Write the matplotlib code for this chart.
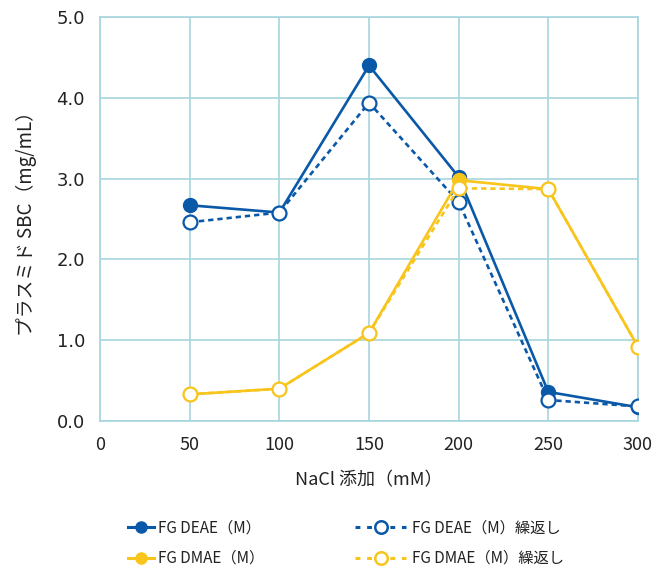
import matplotlib
matplotlib.use("Agg")
import matplotlib.pyplot as plt
from matplotlib.lines import Line2D

plt.rcParams['font.family'] = ['Noto Sans CJK JP', 'DejaVu Sans']

# data
nacl = [50, 100, 150, 200, 250, 300]
deae = [2.67, 2.58, 4.40, 3.02, 0.36, 0.17]
deae_rep = [2.46, 2.58, 3.94, 2.71, 0.26, 0.18]
dmae = [0.33, 0.40, 1.09, 2.98, 2.87, 0.92]
dmae_rep = [0.33, 0.40, 1.09, 2.88, 2.87, 0.92]

labels = ['FG DEAE（M）', 'FG DEAE（M）繰返し', 'FG DMAE（M）', 'FG DMAE（M）繰返し']
xticks = [0, 50, 100, 150, 200, 250, 300]
yticks = [0, 1, 2, 3, 4, 5]

blue = '#0a58a8'
yellow = '#f8c51c'
grid_c = '#a8d5de'
dash = (2.0, 1.5)

fig = plt.figure(figsize=(6.59, 5.67), dpi=100)
ax = fig.add_axes([0.152, 0.2575, 0.816, 0.7125])

lw = 1.9
ms = 10
ax.plot(nacl, deae, color=blue, lw=lw, marker='o', ms=ms, mfc=blue, mec=blue, zorder=3)
ax.plot(nacl, deae_rep, color=blue, lw=lw, dashes=dash, marker='o', ms=ms,
        mfc='white', mec=blue, mew=1.6, zorder=4)
ax.plot(nacl, dmae, color=yellow, lw=lw, marker='o', ms=ms, mfc=yellow, mec=yellow, zorder=5)
ax.plot(nacl, dmae_rep, color=yellow, lw=lw, dashes=dash, marker='o', ms=ms,
        mfc='white', mec=yellow, mew=1.6, zorder=6)

ax.set_xlim(0, 300)
ax.set_ylim(0, 5)
ax.set_xticks(xticks)
ax.set_yticks(yticks)
ax.set_yticklabels(['%.1f' % v for v in yticks], family='DejaVu Sans')
ax.set_xticklabels([str(v) for v in xticks], family='Noto Sans CJK JP')
ax.tick_params(axis='both', length=0, labelsize=13, colors='#222222')
ax.tick_params(axis='y', pad=11)
ax.tick_params(axis='x', pad=11)
ax.grid(True, color=grid_c, lw=1.2)
ax.set_axisbelow(True)
for s in ax.spines.values():
    s.set_color(grid_c)
    s.set_linewidth(1.2)

ax.set_xlabel('NaCl 添加（mM）', fontsize=13, labelpad=12, color='#222222')
ax.set_ylabel('プラスミド SBC（mg/mL）', fontsize=13.5, labelpad=14, color='#222222')

# legend: solid series on the left, repeats on the right
lms = 8
h_solid = [Line2D([], [], color=blue, lw=2.2, marker='o', ms=lms, mfc=blue, mec=blue),
           Line2D([], [], color=yellow, lw=2.2, marker='o', ms=lms, mfc=yellow, mec=yellow)]
h_rep = [Line2D([], [], color=blue, lw=2.2, dashes=(1.6, 2.2), marker='o', ms=lms + 1,
                mfc='white', mec=blue, mew=1.8),
         Line2D([], [], color=yellow, lw=2.2, dashes=(1.6, 2.2), marker='o', ms=lms + 1,
                mfc='white', mec=yellow, mew=1.8)]
leg1 = fig.legend(h_solid, [labels[0], labels[2]], loc='center left', bbox_to_anchor=(0.194, 0.042),
                  frameon=False, fontsize=11, handlelength=1.7, handletextpad=0.3, labelspacing=0.88,
                  borderaxespad=0, borderpad=0)
leg2 = fig.legend(h_rep, [labels[1], labels[3]], loc='center left', bbox_to_anchor=(0.538, 0.042),
                  frameon=False, fontsize=11, handlelength=3.4, handletextpad=0.35, labelspacing=0.88,
                  borderaxespad=0, borderpad=0)
for leg in (leg1, leg2):
    for t in leg.get_texts():
        t.set_color('#222222')

fig.savefig('out.png', dpi=100, facecolor='white')
